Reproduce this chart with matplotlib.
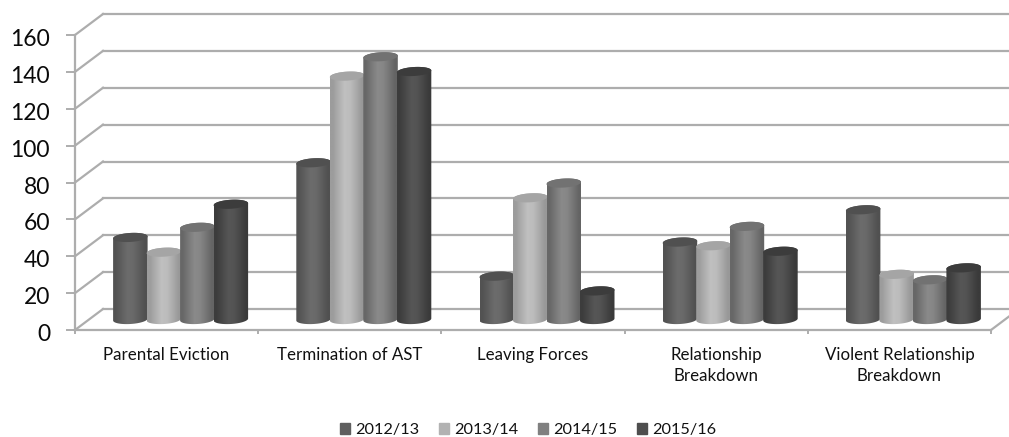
import matplotlib
matplotlib.use("Agg")
import matplotlib.pyplot as plt
import numpy as np
from matplotlib.patches import Patch, Polygon
from matplotlib.transforms import Affine2D

plt.rcParams["font.family"] = ["Lato", "DejaVu Sans"]

categories = ["Parental Eviction", "Termination of AST", "Leaving Forces",
              "Relationship\nBreakdown", "Violent Relationship\nBreakdown"]
years = ["2012/13", "2013/14", "2014/15", "2015/16"]
v2012 = [44.5, 85, 23.5, 42, 59.5]
v2013 = [36.5, 132, 66, 40, 24.5]
v2014 = [50, 142.5, 74, 50.5, 21.5]
v2015 = [62.5, 134.5, 15.5, 37, 28]
yticks = [0, 20, 40, 60, 80, 100, 120, 140, 160]

series = [v2012, v2013, v2014, v2015]
GRID = "#adadad"
# bord, centre, dessus du cylindre
shades = [("#505050", "#6c6c6c", "#505050"),
          ("#989898", "#c0c0c0", "#a5a5a5"),
          ("#646464", "#8a8a8a", "#727272"),
          ("#3a3a3a", "#565656", "#3c3c3c")]
legend_colors = ["#5f5f5f", "#b2b2b2", "#808080", "#4e4e4e"]

W, H = 1009, 437
X0, X1, Y0, Y160 = 75, 991, 330, 35
DEPTH_X, DEPTH_Y = 28, 21

fig = plt.figure(figsize=(W / 100, H / 100), dpi=100, facecolor="white")
ax = fig.add_axes([X0 / W, (H - Y0) / H, (X1 - X0) / W, (Y0 - Y160) / H])
ax.set_xlim(0, len(categories))
ax.set_ylim(0, 160)
px = (X1 - X0) / len(categories)
py = (Y0 - Y160) / 160

# --- parois : lignes du fond et diagonales, décalées en pixels ---
back = ax.transData + Affine2D().translate(DEPTH_X, DEPTH_Y)
for t in yticks:
    ax.plot([0, len(categories)], [t, t], color=GRID, lw=1.6, transform=back, clip_on=False, zorder=1)
    ax.plot([0, DEPTH_X / px], [t, t + DEPTH_Y / py], color=GRID, lw=1.6, clip_on=False, zorder=1)
ax.plot([5, 5 + DEPTH_X / px], [0, DEPTH_Y / py], color=GRID, lw=1.6, clip_on=False, zorder=1)

# --- cylindres au milieu de la profondeur ---
mid = ax.transData + Affine2D().translate(DEPTH_X / 2, DEPTH_Y / 2)
bar_w = 34.5 / px
ry = 4.5 / py
tilt = 1 / py
t_top = np.linspace(0, np.pi, 40)
t_bot = np.linspace(np.pi, 2 * np.pi, 40)
for i, values in enumerate(series):
    edge, centre, top = shades[i]
    e = np.array(matplotlib.colors.to_rgb(edge))
    c = np.array(matplotlib.colors.to_rgb(centre))
    w = np.array([0.1, 0.55, 1.0, 0.9, 0.45, 0.0])
    strip = np.array([[e + (c - e) * k for k in w]])
    for j, v in enumerate(values):
        xc = j + 0.5 + (i - 1.5) * 33.5 / px
        xt = xc + bar_w / 2 * np.cos(t_top)
        yt = v + ry * np.sin(t_top) + tilt * np.cos(t_top)
        xb = xc + bar_w / 2 * np.cos(t_bot)
        yb = ry * np.sin(t_bot) + tilt * np.cos(t_bot)
        outline = Polygon(np.column_stack([np.r_[xt, xb], np.r_[yt, yb]]), closed=True,
                          transform=mid, fc="none", ec="none", zorder=3 + i)
        ax.add_patch(outline)
        im = ax.imshow(strip, extent=[xc - bar_w / 2, xc + bar_w / 2, yb.min() - 1, yt.max() + 1],
                       aspect="auto", interpolation="bilinear", transform=mid, zorder=3 + i)
        im.set_clip_path(outline)
        t = np.linspace(0, 2 * np.pi, 60)
        ax.fill(xc + bar_w / 2 * np.cos(t), v + ry * np.sin(t) + tilt * np.cos(t),
                color=top, lw=0, transform=mid, zorder=3 + i, clip_on=False)
ax.set_xlim(0, len(categories))
ax.set_ylim(0, 160)

# --- axes ---
for s in ["top", "right"]:
    ax.spines[s].set_visible(False)
for s in ["left", "bottom"]:
    ax.spines[s].set_color(GRID)
    ax.spines[s].set_linewidth(1.6)
ax.patch.set_visible(False)
ax.set_yticks(yticks)
ax.tick_params(axis="y", length=6.5, width=1.4, color=GRID, labelsize=16.5, pad=11.5, labelcolor="#0a0a0a")
for lab in ax.get_yticklabels():
    lab.set_transform(lab.get_transform() + Affine2D().translate(0, -2.5))
ax.set_xticks(range(len(categories) + 1))
ax.set_xticklabels([])
ax.tick_params(axis="x", which="major", length=3, width=1.4, color=GRID)
ax.set_xticks(np.arange(len(categories)) + 0.5, minor=True)
ax.set_xticklabels(categories, minor=True, fontsize=12.2, color="#111111", linespacing=1.42)
ax.tick_params(axis="x", which="minor", length=0, pad=12)

handles = [Patch(color=c, label=y) for c, y in zip(legend_colors, years)]
fig.legend(handles=handles, loc="center", bbox_to_anchor=(528 / W, (H - 430) / H), ncol=4, frameon=False,
           fontsize=11.7, handlelength=0.62, handleheight=0.62, handletextpad=0.3, columnspacing=1.23,
           labelcolor="#111111")

fig.savefig("out.png", dpi=100)
